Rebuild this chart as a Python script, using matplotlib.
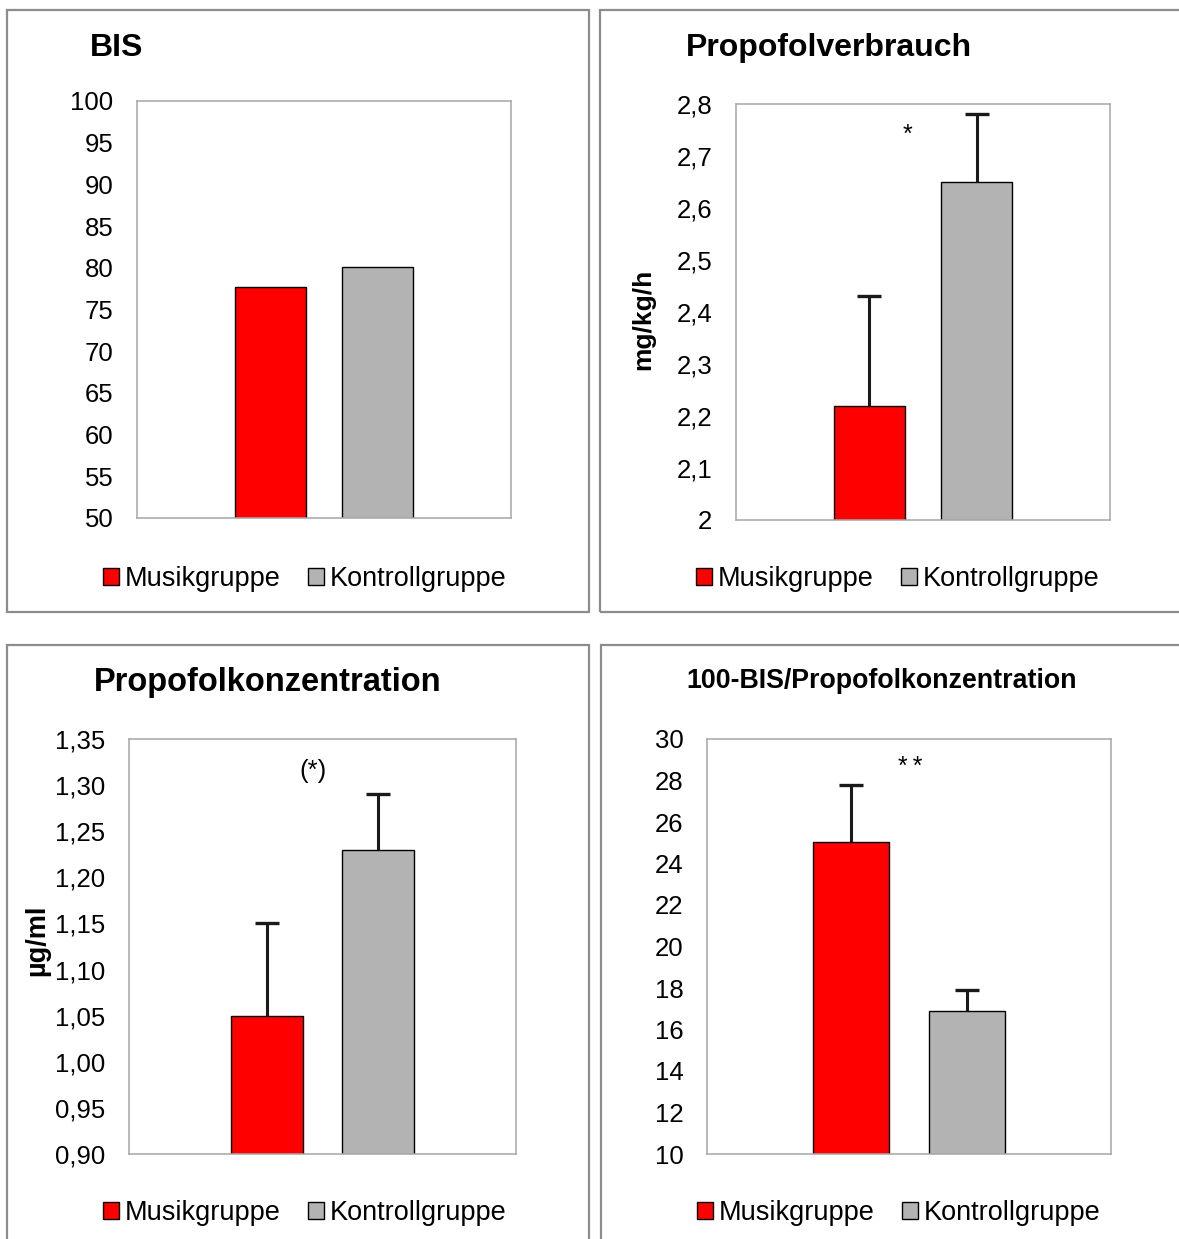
import matplotlib
matplotlib.use("Agg")
import matplotlib.pyplot as plt
from matplotlib.patches import Rectangle

plt.rcParams['font.family'] = ['Liberation Sans', 'DejaVu Sans']

# --- data ---
groups = ["Musikgruppe", "Kontrollgruppe"]
colors = ["#ff0000", "#b3b3b3"]

bis_mean = [77.7, 80.1]

verbrauch_mean = [2.22, 2.65]
verbrauch_err = [0.21, 0.13]

konz_mean = [1.05, 1.23]
konz_err = [0.10, 0.06]

ratio_mean = [25.05, 16.9]
ratio_err = [2.75, 1.0]

W, H = 1179, 1239
fig = plt.figure(figsize=(W / 100, H / 100), dpi=100)


def px_axes(x0, y0, x1, y1):
    """ Axes placed by pixel box (top-left origin). """
    return fig.add_axes([x0 / W, 1 - y1 / H, (x1 - x0) / W, (y1 - y0) / H])


def panel_box(x0, y0, x1, y1):
    fig.add_artist(Rectangle((x0 / W, 1 - y1 / H), (x1 - x0) / W, (y1 - y0) / H,
                             transform=fig.transFigure, fill=False,
                             edgecolor="#8c8c8c", linewidth=1.6))


def bar_panel(ax, means, errs, ticks, ticklabels):
    xs = [0, 1]
    ax.bar(xs, means, width=0.655, color=colors, edgecolor="black",
           linewidth=1.0, zorder=2)
    if errs is not None:
        eb = ax.errorbar(xs, means, yerr=[[0, 0], errs], fmt="none",
                         ecolor="#1a1a1a", elinewidth=2.2, capsize=8.5,
                         capthick=2.4, zorder=3)
        # only keep the upper cap (Excel style "plus" error bar)
        for cap in eb[1]:
            if list(cap.get_ydata()) == list(means):
                cap.remove()
    ax.set_xlim(0.5 - 1.745, 0.5 + 1.745)
    ax.set_ylim(ticks[0], ticks[-1])
    ax.set_yticks(ticks)
    ax.set_yticklabels(ticklabels, fontsize=18.5)
    ax.set_xticks([])
    ax.tick_params(axis="y", length=0, pad=17)
    for s in ax.spines.values():
        s.set_color("#a6a6a6")
        s.set_linewidth(1.1)


def legend_at(cx, cy):
    handles = [Rectangle((0, 0), 1, 1, facecolor=c, edgecolor="black",
                         linewidth=1.0) for c in colors]
    fig.legend(handles, groups, loc="center",
               bbox_to_anchor=(cx / W, 1 - cy / H), ncol=2, frameon=False,
               fontsize=19.5, handlelength=0.58, handleheight=0.58,
               handletextpad=0.22, columnspacing=1.0)


# panel frames
panel_box(7, 10, 589, 612)
panel_box(600, 10, 1190, 612)
panel_box(7, 645, 589, 1250)
panel_box(601, 645, 1190, 1250)

# 1: BIS
ax1 = px_axes(137, 101, 511, 518)
bar_panel(ax1, bis_mean, None, list(range(50, 101, 5)),
          [str(v) for v in range(50, 101, 5)])
fig.text(90 / W, 1 - 48 / H, "BIS", fontsize=23, fontweight="bold",
         ha="left", va="center")
legend_at(305, 579)

# 2: Propofolverbrauch
ax2 = px_axes(736, 104, 1110, 520)
t2 = [2.0, 2.1, 2.2, 2.3, 2.4, 2.5, 2.6, 2.7, 2.8]
bar_panel(ax2, verbrauch_mean, verbrauch_err, t2,
          ["2"] + [f"{v:.1f}".replace(".", ",") for v in t2[1:]])
ax2.text(0.355, 2.74, "*", fontsize=18, ha="center", va="center")
fig.text(686 / W, 1 - 48 / H, "Propofolverbrauch", fontsize=23,
         fontweight="bold", ha="left", va="center")
fig.text(643 / W, 1 - 319 / H, "mg/kg/h", fontsize=19, fontweight="bold",
         rotation=90, ha="center", va="center")
legend_at(898, 579)

# 3: Propofolkonzentration
ax3 = px_axes(129, 739, 516, 1154)
t3 = [0.90, 0.95, 1.00, 1.05, 1.10, 1.15, 1.20, 1.25, 1.30, 1.35]
bar_panel(ax3, konz_mean, konz_err, t3,
          [f"{v:.2f}".replace(".", ",") for v in t3])
ax3.text(0.414, 1.315, "(*)", fontsize=18.5, ha="center", va="center")
fig.text(94 / W, 1 - 683 / H, "Propofolkonzentration", fontsize=23.5,
         fontweight="bold", ha="left", va="center")
fig.text(37 / W, 1 - 940 / H, "µg/ml", fontsize=19.5, fontweight="bold",
         rotation=90, ha="center", va="center")
legend_at(305, 1213)

# 4: 100-BIS/Propofolkonzentration
ax4 = px_axes(707, 739, 1111, 1154)
t4 = list(range(10, 31, 2))
bar_panel(ax4, ratio_mean, ratio_err, t4, [str(v) for v in t4])
ax4.text(0.51, 28.65, "*\u2009*", fontsize=18, ha="center", va="center")
fig.text(882 / W, 1 - 681 / H, "100-BIS/Propofolkonzentration", fontsize=19.3,
         fontweight="bold", ha="center", va="center")
legend_at(899, 1213)

fig.savefig("out.png", dpi=100)
